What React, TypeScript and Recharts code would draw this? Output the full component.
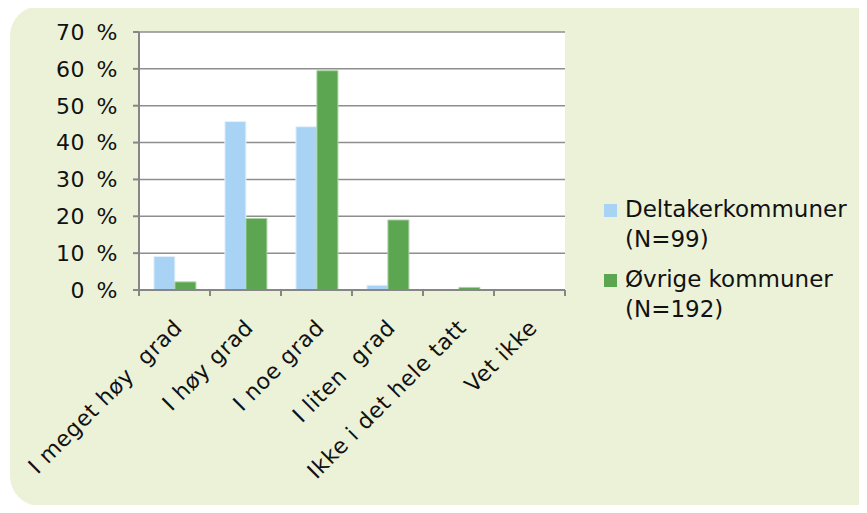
import React from "react";
import { BarChart, Bar, XAxis, YAxis, CartesianGrid } from "recharts";

const categories = [
  "I meget høy  grad",
  "I høy grad",
  "I noe grad",
  "I liten  grad",
  "Ikke i det hele tatt",
  "Vet ikke",
];
const deltaker = [9.1, 45.7, 44.3, 1.3, 0, 0];
const ovrige = [2.2, 19.4, 59.5, 19.0, 0.7, 0];
const yTicks = [0, 10, 20, 30, 40, 50, 60, 70];
const seriesNames = ["Deltakerkommuner\n(N=99)", "Øvrige kommuner\n(N=192)"];
const seriesColors = ["#A9D3F4", "#5CA651"];

const data = categories.map((c, i) => ({ name: c, a: deltaker[i], b: ovrige[i] }));

const FONT = "'DejaVu Sans', Verdana, sans-serif";
const FS = 22;

const XTick = (props: any) => {
  const { x, y, payload, index, visibleTicksCount } = props;
  const half = payload && payload.offset ? payload.offset : 35.5;
  const axisY = y - 8;
  return (
    <g>
      <line x1={x - half} x2={x - half} y1={axisY} y2={axisY + 6} stroke="#868686" strokeWidth={2} />
      {index === (visibleTicksCount ?? categories.length) - 1 ? (
        <line x1={x + half} x2={x + half} y1={axisY} y2={axisY + 6} stroke="#868686" strokeWidth={2} />
      ) : null}
      <text
        transform={`translate(${x + 9},${axisY + 39}) rotate(-45)`}
        textAnchor="end"
        fontSize={FS}
        fontFamily={FONT}
        fill="#111"
        style={{ whiteSpace: "pre", letterSpacing: "0.6px" }}
      >
        {payload.value}
      </text>
    </g>
  );
};

const LegendBox = () => (
  <div style={{ position: "absolute", left: 604, top: 194, fontFamily: FONT, fontSize: 23, color: "#111" }}>
    {seriesNames.map((n, i) => (
      <div key={i} style={{ display: "flex", alignItems: "flex-start", marginBottom: 10 }}>
        <div
          style={{
            width: 13,
            height: 13,
            background: seriesColors[i],
            marginTop: 10,
            marginRight: 8,
            flex: "none",
          }}
        />
        <div style={{ lineHeight: "30px", whiteSpace: "pre" }}>{n}</div>
      </div>
    ))}
  </div>
);

export default function App() {
  return (
    <div style={{ position: "relative", width: 867, height: 513, margin: -8, overflow: "hidden", background: "#fff" }}>
      <div
        style={{
          position: "absolute",
          left: 10,
          top: 6,
          width: 880,
          height: 500,
          borderRadius: 30,
          background: "#ECF2D8",
        }}
      />
      <div style={{ position: "absolute", left: 0, top: 0 }}>
        <BarChart
          width={867}
          height={513}
          data={data}
          margin={{ top: 32, right: 302, bottom: 0, left: 59 }}
          barCategoryGap="21%"
          barGap={0}
        >
          <CartesianGrid vertical={false} fill="#ffffff" stroke="#8E8E8E" strokeWidth={1.5} />
          <XAxis
            dataKey="name"
            interval={0}
            height={223}
            tick={<XTick />}
            tickLine={false}
            axisLine={{ stroke: "#868686", strokeWidth: 2 }}
          />
          <YAxis
            width={80}
            domain={[0, 70]}
            ticks={yTicks}
            interval={0}
            tickFormatter={(v: number) => `${v} %`}
            tick={{ fontSize: FS, fontFamily: FONT, fill: "#111", style: { wordSpacing: "4px", letterSpacing: "0.5px" } }}
            tickSize={6}
            tickMargin={15}
            tickLine={{ stroke: "#868686", strokeWidth: 2 }}
            axisLine={{ stroke: "#868686", strokeWidth: 2 }}
          />
          <Bar dataKey="a" name={seriesNames[0]} fill={seriesColors[0]} stroke="#E4F1FB" strokeWidth={1} isAnimationActive={false} />
          <Bar dataKey="b" name={seriesNames[1]} fill={seriesColors[1]} stroke="#A9D3A0" strokeWidth={1} isAnimationActive={false} />
        </BarChart>
      </div>
      <LegendBox />
    </div>
  );
}
